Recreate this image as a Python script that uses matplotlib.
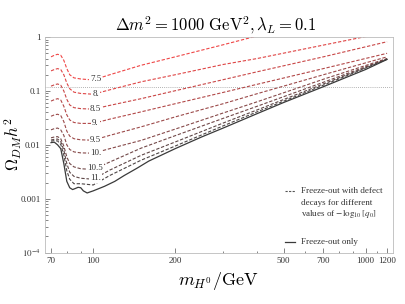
import numpy as np
import matplotlib
matplotlib.use("Agg")
import matplotlib.pyplot as plt
from matplotlib.ticker import FixedLocator, NullFormatter

plt.rcParams['font.family'] = ['Liberation Serif', 'DejaVu Serif']
plt.rcParams['mathtext.fontset'] = 'stix'

# data
# freeze-out only (solid)
x_fo = [70, 72, 74, 76, 78, 80, 82, 84, 86, 88, 90, 92, 95, 100, 110, 120, 130,
        145, 160, 200, 250, 300, 400, 500, 700, 1000, 1200]
y_fo = [0.0110, 0.0112, 0.0100, 0.0085, 0.0045, 0.0021, 0.0016, 0.00148, 0.00155,
        0.00163, 0.00160, 0.00140, 0.00128, 0.00140, 0.0017, 0.0021, 0.0027,
        0.0037, 0.0050, 0.0085, 0.0140, 0.0205, 0.038, 0.061, 0.12, 0.25, 0.385]

# freeze-out with defect decays (dashed), one per -log10[q0]
x_dec = [70, 72, 74, 76, 78, 80, 82, 85, 90, 100, 115, 150, 200, 300, 400, 700, 1200]
q_labels = ['7.5', '8.', '8.5', '9.', '9.5', '10.', '10.5', '11.', '']
y_75 = [0.43, 0.46, 0.48, 0.46, 0.37, 0.26, 0.20, 0.175, 0.167, 0.160, 0.20, 0.30,
        0.43, 0.72, 1.05, np.nan, np.nan]
y_80 = [0.236, 0.25, 0.26, 0.25, 0.20, 0.14, 0.11, 0.095, 0.090, 0.087, 0.105, 0.148,
        0.20, 0.31, 0.40, 0.71, 1.23]
y_85 = [0.123, 0.130, 0.135, 0.128, 0.10, 0.07, 0.055, 0.049, 0.047, 0.046, 0.054,
        0.072, 0.101, 0.162, 0.227, 0.43, 0.82]
y_90 = [0.065, 0.069, 0.072, 0.068, 0.052, 0.036, 0.029, 0.026, 0.025, 0.025, 0.030,
        0.041, 0.058, 0.094, 0.133, 0.26, 0.50]
y_95 = [0.034, 0.036, 0.037, 0.035, 0.027, 0.018, 0.0145, 0.0130, 0.0124, 0.0122,
        0.0150, 0.0216, 0.033, 0.058, 0.089, 0.20, 0.43]
y_100 = [0.019, 0.020, 0.0205, 0.019, 0.015, 0.010, 0.0082, 0.0074, 0.0071, 0.0070,
         0.0085, 0.0121, 0.0196, 0.039, 0.063, 0.165, 0.40]
y_105 = [0.0135, 0.0140, 0.0142, 0.0130, 0.0095, 0.0060, 0.0045, 0.0039, 0.0036,
         0.0035, 0.0048, 0.0087, 0.0148, 0.031, 0.052, 0.145, 0.395]
y_110 = [0.0123, 0.0127, 0.0128, 0.0115, 0.0080, 0.0045, 0.0031, 0.0026, 0.0024,
         0.0023, 0.0034, 0.0064, 0.0113, 0.0254, 0.0445, 0.135, 0.39]
y_115 = [0.0117, 0.0120, 0.0118, 0.0102, 0.0065, 0.0033, 0.0023, 0.0019, 0.0019,
         0.0018, 0.0027, 0.0052, 0.0095, 0.0225, 0.041, 0.128, 0.387]
y_dec = [y_75, y_80, y_85, y_90, y_95, y_100, y_105, y_110, y_115]

omega_obs = 0.12
x_ticks = [70, 100, 200, 500, 700, 1000, 1200]
y_ticks = [1e-4, 1e-3, 1e-2, 1e-1, 1]
y_ticklabels = ['$10^{-4}$', '0.001', '0.01', '0.1', '1']

colors = ['#ef4646', '#df4545', '#c94646', '#b24848', '#9c4a4a', '#864a4a',
          '#714848', '#5e4747', '#4c4545']

fig = plt.figure(figsize=(4.05, 3.04), dpi=100)
ax = fig.add_axes([0.111, 0.169, 0.859, 0.709])

ax.axhline(omega_obs, color='#999999', lw=0.6, ls=(0, (1, 1.5)), zorder=1)

for ys, c in zip(y_dec, colors):
    ax.plot(x_dec, ys, color=c, lw=0.8, ls=(0, (3, 1.6)), zorder=2)
ax.plot(x_fo, y_fo, color='#3a3a3a', lw=0.9, zorder=3)

# curve labels sitting on the curves
for lab, ys in zip(q_labels, y_dec):
    if lab:
        yl = np.exp(np.interp(np.log(102), np.log(x_dec), np.log(ys)))
        ax.text(102, yl, lab, fontsize=6.5, ha='center', va='center', color='#333333',
                bbox=dict(facecolor='white', edgecolor='none', pad=0.6), zorder=4)

ax.set_xscale('log')
ax.set_yscale('log')
ax.set_xlim(66.5, 1260)
ax.set_ylim(1e-4, 1)

ax.xaxis.set_major_locator(FixedLocator(x_ticks))
ax.set_xticklabels([str(t) for t in x_ticks])
ax.xaxis.set_minor_locator(FixedLocator([80, 90, 300, 400, 600, 800, 900, 1100]))
ax.xaxis.set_minor_formatter(NullFormatter())
ax.yaxis.set_major_locator(FixedLocator(y_ticks))
ax.set_yticklabels(y_ticklabels)
ax.yaxis.set_minor_locator(FixedLocator([m * 10.0 ** e for e in range(-4, 0) for m in range(2, 10)]))
ax.yaxis.set_minor_formatter(NullFormatter())

ax.tick_params(which='both', direction='in', top=False, right=False,
               labelsize=6.5, colors='#555555', labelcolor='#333333', width=0.5)
ax.tick_params(which='major', length=3.5, pad=3)
ax.tick_params(which='minor', length=1.8)
for s in ax.spines.values():
    s.set_color('#bbbbbb')
    s.set_linewidth(0.6)

# legend drawn by hand
ax.plot([0.69, 0.72], [0.285, 0.285], transform=ax.transAxes, color='#555555',
        lw=0.8, ls=(0, (2, 1.2)))
ax.plot([0.69, 0.72], [0.051, 0.051], transform=ax.transAxes, color='#3a3a3a', lw=0.9)
leg_lines = ['Freeze-out with defect', 'decays for different', 'values of $-\\log_{10}[q_0]$']
for i, t in enumerate(leg_lines):
    ax.text(0.735, 0.285 - i * 0.053, t, transform=ax.transAxes, fontsize=6.5,
            va='center', ha='left', color='#333333')
ax.text(0.735, 0.051, 'Freeze-out only', transform=ax.transAxes, fontsize=6.5,
        va='center', ha='left', color='#333333')

fig.text(0.533, 1 - 25 / 304, '$\\Delta m^2 = 1000\\ \\mathrm{GeV}^2, \\lambda_L = 0.1$',
         fontsize=12, ha='center', va='center', math_fontfamily='cm')
fig.text(0.540, 1 - 281 / 304, '$m_{H^0}/\\mathrm{GeV}$', fontsize=13,
         ha='center', va='center', math_fontfamily='cm')
fig.text(0.033, 1 - 144 / 304, '$\\Omega_{DM}h^2$', fontsize=12, rotation=90,
         ha='center', va='center', math_fontfamily='cm')

fig.savefig('out.png', dpi=100)
